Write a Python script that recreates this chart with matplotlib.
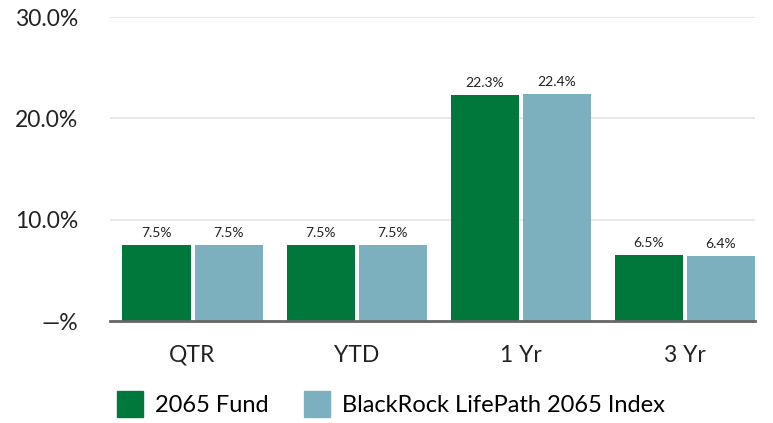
import matplotlib
matplotlib.use("Agg")
import matplotlib.pyplot as plt
import numpy as np
from matplotlib.patches import Patch

categories = ["QTR", "YTD", "1 Yr", "3 Yr"]
fund = [7.5, 7.5, 22.3, 6.5]
index = [7.5, 7.5, 22.4, 6.4]
series_names = ["2065 Fund", "BlackRock LifePath 2065 Index"]
yticks = [0, 10, 20, 30]
ytick_labels = ["—%", "10.0%", "20.0%", "30.0%"]

green = "#00783C"
blue = "#7DB0BE"
plt.rcParams['font.family'] = ['Lato', 'DejaVu Sans']

fig = plt.figure(figsize=(7.73, 4.23), dpi=100)
ax = fig.add_axes([110/773, 1-321/423, 645/773, 304/423])
x = np.arange(len(categories))
w = 0.415
off = 0.22
b1 = ax.bar(x - off, fund, w, color=green, zorder=3)
b2 = ax.bar(x + off, index, w, color=blue, zorder=3)
for bars, vals in ((b1, fund), (b2, index)):
    for r, v in zip(bars, vals):
        ax.text(r.get_x() + r.get_width()/2, v + 0.6, f"{v:.1f}%", ha="center", va="bottom",
                fontsize=10, color="#222222")
ax.set_ylim(0, 30)
ax.set_xlim(-0.503, 3.427)
ax.set_yticks(yticks)
ax.set_yticklabels(ytick_labels, fontsize=16.5, color="#222222")
ax.set_xticks(x)
ax.set_xticklabels(categories, fontsize=16.5, color="#222222")
ax.tick_params(axis="y", length=0, pad=23)
ax.tick_params(axis="x", length=0, pad=17)
ax.grid(axis="y", color="#E8E8E8", linewidth=1.5, zorder=0)
for s in ["top", "right", "left"]:
    ax.spines[s].set_visible(False)
ax.spines["bottom"].set_color("#666666")
ax.spines["bottom"].set_linewidth(2)
ax.spines["bottom"].set_zorder(4)

handles = [Patch(color=green), Patch(color=blue)]
fig.legend(handles, series_names, loc="center left", bbox_to_anchor=(117/773, 1-404/423), ncol=2,
           frameon=False, fontsize=17, handlelength=1.1, handleheight=1.3,
           handletextpad=0.5, columnspacing=1.5, borderaxespad=0, borderpad=0)
fig.savefig("out.png", dpi=100)
